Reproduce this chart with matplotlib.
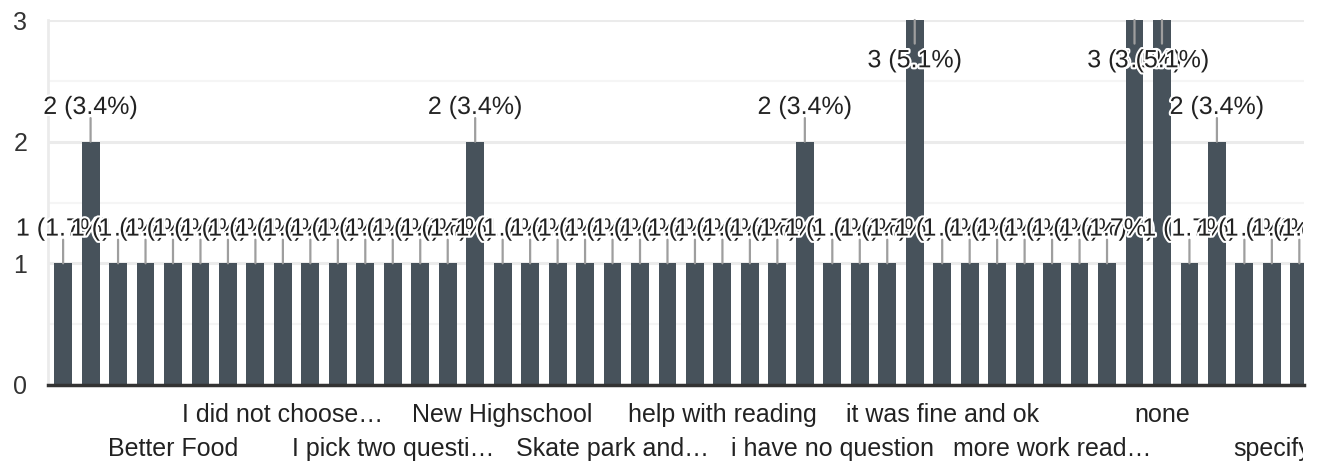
import matplotlib
matplotlib.use("Agg")
import matplotlib.pyplot as plt
import matplotlib.patheffects as pe
from matplotlib.transforms import Bbox, TransformedBbox

plt.rcParams['font.family'] = ['Liberation Sans', 'DejaVu Sans']

# responses per answer (only the part of the chart that is scrolled into view)
counts = [1, 2, 1, 1, 1, 1, 1, 1, 1, 1, 1, 1, 1, 1, 1, 2,
          1, 1, 1, 1, 1, 1, 1, 1, 1, 1, 1, 2, 1, 1, 1, 3,
          1, 1, 1, 1, 1, 1, 1, 3, 3, 1, 2, 1, 1, 1]
total = 59

# every 4th answer gets a label on the axis
tick_labels = ["Better Food", "I did not choose…", "I pick two questi…",
               "New Highschool", "Skate park and…", "help with reading",
               "i have no question", "it was fine and ok", "more work read…",
               "none", "specify"]

bar_color = '#47525b'
W, H = 1323, 462
fs = 18

fig = plt.figure(figsize=(W / 100, H / 100), dpi=100)
ax = fig.add_axes([48 / W, 1 - 385 / H, (1304 - 48) / W, (385 - 20) / H])

x = list(range(len(counts)))
ax.bar(x, counts, width=0.65, color=bar_color, zorder=2)
ax.set_xlim(-0.55, 45.17)
ax.set_ylim(0, 3)

ax.set_yticks([0, 1, 2, 3])
ax.set_yticks([0.5, 1.5, 2.5], minor=True)
ax.grid(axis='y', which='major', color='#ebebeb', lw=2.2)
ax.grid(axis='y', which='minor', color='#f5f5f5', lw=1.5)
ax.set_axisbelow(True)

for s in ['top', 'right']:
    ax.spines[s].set_visible(False)
ax.spines['left'].set_color('#ebebeb')
ax.spines['left'].set_linewidth(2)
ax.spines['bottom'].set_color('#333333')
ax.spines['bottom'].set_linewidth(2.5)
ax.spines['bottom'].set_zorder(3)

ax.tick_params(axis='both', which='both', length=0, labelsize=fs)
ax.tick_params(axis='y', pad=15, colors='#333333')
ax.tick_params(axis='x', pad=13, colors='#222222')

ticks = list(range(4, len(counts), 4))
labs = [('\n' if j % 2 == 0 else '') + name for j, name in enumerate(tick_labels)]
ax.set_xticks(ticks, labs)
clip = TransformedBbox(Bbox([[0, 0], [1303 / W, 1]]), fig.transFigure)
for t in ax.get_xticklabels():
    t.set_linespacing(1.5)
    t.set_clip_box(clip)
    t.set_clip_on(True)

# value labels with leader lines, each drawn over the previous one
ytop = ax.get_ylim()[1]
for i, v in enumerate(counts):
    txt = f"{v} ({v / total * 100:.1f}%)"
    if v >= ytop:
        line_off, text_off = -17, -29
    else:
        line_off, text_off = 17, 25
    ax.annotate('', xy=(i, v), xytext=(0, line_off), textcoords='offset points',
                arrowprops=dict(arrowstyle='-', color='#9e9e9e', lw=1.6,
                                shrinkA=0, shrinkB=0), zorder=3)
    t = ax.annotate(txt, xy=(i, v), xytext=(0, text_off), textcoords='offset points',
                    ha='center', va='center', fontsize=fs, color='#222222', zorder=4,
                    path_effects=[pe.withStroke(linewidth=3, foreground='white')])
    t.set_clip_box(clip)
    t.set_clip_on(True)

fig.savefig('out.png', dpi=100)
